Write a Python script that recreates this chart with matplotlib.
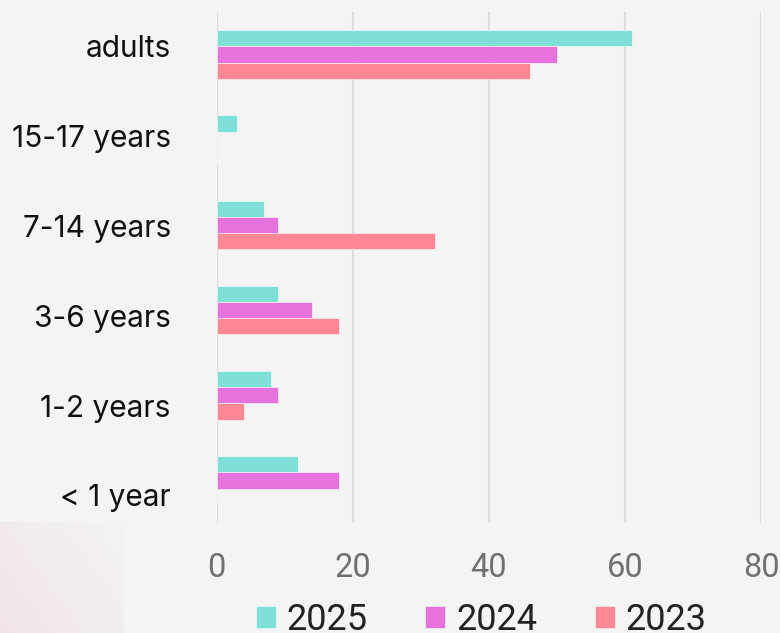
import numpy as np
import matplotlib.pyplot as plt

categories = ['adults', '15-17 years', '7-14 years', '3-6 years', '1-2 years', '< 1 year']
series = ['2025', '2024', '2023']
v2025 = [61, 3, 7, 9, 8, 12]
v2024 = [50, 0, 9, 14, 9, 18]
v2023 = [46, 0, 32, 18, 4, 0]
colors = ['#7ee0d9', '#e673dc', '#ff8894']
xticks = [0, 20, 40, 60, 80]

bg = '#f4f4f4'
fig = plt.figure(figsize=(7.8, 6.33), dpi=100, facecolor=bg)

# faint pink patch in the lower-left corner
deco = fig.add_axes([0, 0, 124 / 780, 111 / 633])
gx = np.linspace(0, 1, 60)
gy = np.linspace(0, 1, 40)[:, None]
mix = (1 - gx)[None, :] * 0.6 + gy * 0.4
c0 = np.array([244, 243, 244]) / 255
c1 = np.array([240, 228, 234]) / 255
img = c0 + (c1 - c0) * mix[..., None]
deco.imshow(img, aspect='auto', origin='upper', extent=[0, 1, 0, 1])
deco.axis('off')

ax = fig.add_axes([216.7 / 780, 1 - 523 / 633, (761.3 - 216.7) / 780, 511 / 633])
ax.set_facecolor(bg)

y = np.arange(len(categories))
h = 0.19
bars = []
for i, (vals, name) in enumerate(zip([v2025, v2024, v2023], series)):
    b = ax.barh(y + (i - 1) * h, vals, height=h, color=colors[i], label=name,
                edgecolor='#ffffff', linewidth=0.4, zorder=3)
    bars.append(b)

ax.set_xlim(0, 80)
ax.set_ylim(len(categories) - 0.5, -0.5)
ax.set_xticks(xticks)
# labels in the original are spread a little wider than the bar groups
ax.set_yticks(-0.095 + 1.054 * y)
ax.set_yticklabels(categories, fontfamily='Inter', fontsize=21.5, color='#111111')
ax.tick_params(axis='y', length=0, pad=33)
ax.tick_params(axis='x', length=0, pad=21, labelsize=23.5, labelcolor='#707070')
for lab in ax.get_xticklabels():
    lab.set_fontfamily('Roboto')
ax.grid(axis='x', color='#dcdcdc', linewidth=1.5, zorder=0)
ax.grid(axis='y', visible=False)
for s in ax.spines.values():
    s.set_visible(False)

leg = fig.legend(handles=bars, labels=series, loc='center', ncol=3,
                 bbox_to_anchor=(0.617, 13 / 633), frameon=False,
                 prop={'family': 'Roboto', 'size': 26}, handlelength=0.55,
                 handleheight=0.55, handletextpad=0.3, columnspacing=1.6,
                 labelcolor='#222222')

fig.savefig('out.png', dpi=100, facecolor=bg)
